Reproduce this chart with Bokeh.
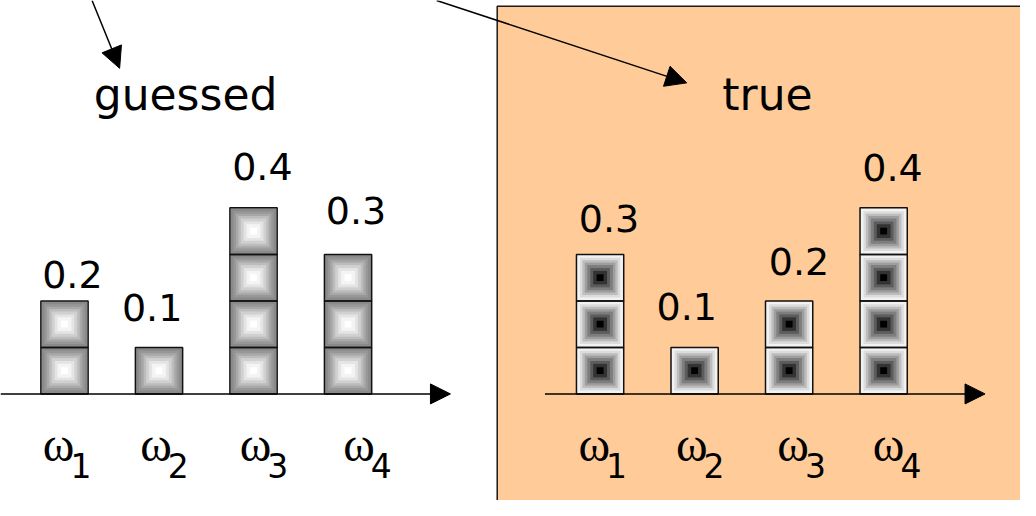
from bokeh.plotting import figure
from bokeh.models import Range1d, Arrow, NormalHead, ColumnDataSource
from bokeh.core.properties import value
from bokeh.embed import file_html
from bokeh.resources import INLINE

# ---- data ----
categories = ["1", "2", "3", "4"]          # subscripts of omega
guessed = [0.2, 0.1, 0.4, 0.3]
true_vals = [0.3, 0.1, 0.2, 0.4]
panel_titles = ["guessed", "true"]

# ---- layout (reference-pixel data units) ----
W, H = 1020, 500
REF_W, REF_H = 1036, 516
axis_y = 406
unit = 48            # px per 0.1 block
spacing = 96
left_first_center = [65, 609]
lab_dx = [[8, -7, 9, 8], [9, -8, 10, 9]]
lab_gap = [[12, 26, 27, 30], [22, 27, 25, 26]]
omega_dx = [[2, 5, 10, 19], [2, 5, 12, 13]]
BL = 0.4  # baseline correction factor (fraction of font size)

p = figure(width=W, height=H, output_backend="svg", toolbar_location=None,
           x_range=Range1d(0, REF_W), y_range=Range1d(REF_H, 0),
           min_border=0, background_fill_color="white", border_fill_color="white")
p.axis.visible = False
p.grid.visible = False
p.outline_line_color = None

# orange panel
p.quad(left=[504.5], right=[1060], top=[6], bottom=[540],
       fill_color="#FFCC99", line_color="#1a1a1a", line_width=1.5)

sans = value("DejaVu Sans")
serif = value("Liberation Serif")

left_ramp = ["#8a8a8a", "#979797", "#a8a8a8", "#bcbcbc", "#d0d0d0", "#e4e4e4", "#f4f4f4", "#ffffff"]
right_ramp = ["#f2f2f2", "#dcdcdc", "#bdbdbd", "#9e9e9e", "#7e7e7e", "#5c5c5c", "#333333", "#000000"]
sizes = [47, 41, 36, 31, 26, 20, 14, 7]

VAL_FS, TITLE_FS, OM_FS, SUB_FS = 38, 44, 48, 33

for k, (vals, ramp) in enumerate([(guessed, left_ramp), (true_vals, right_ramp)]):
    xs, ys = [], []
    for i, v in enumerate(vals):
        n = int(round(v * 10))
        cx = left_first_center[k] + spacing * i
        for j in range(n):
            xs.append(cx)
            ys.append(axis_y - unit / 2 - unit * j)
    src = ColumnDataSource(dict(x=xs, y=ys))
    for s, c in zip(sizes, ramp):
        p.rect("x", "y", width=s, height=s, source=src, fill_color=c, line_color=None)
    p.rect("x", "y", width=unit, height=unit, source=src, fill_color=None,
           line_color="#111111", line_width=1.5)

    # value labels
    lx = [left_first_center[k] + spacing * i + lab_dx[k][i] for i in range(4)]
    ly = [axis_y - unit * int(round(v * 10)) - lab_gap[k][i] - BL * VAL_FS for i, v in enumerate(vals)]
    p.text(lx, ly, text=["%.1f" % v for v in vals], text_font=sans, text_font_size=f"{VAL_FS}px",
           text_align="center", text_baseline="alphabetic", text_color="black")

    # omega labels
    ox = [left_first_center[k] - unit / 2 + spacing * i + omega_dx[k][i] for i in range(4)]
    p.text(ox, [477 - BL * OM_FS] * 4, text=["ω"] * 4, text_font=serif, text_font_size=f"{OM_FS}px",
           text_align="left", text_baseline="alphabetic", text_color="black")
    p.text([x + 28 for x in ox], [493 - BL * SUB_FS] * 4, text=categories, text_font=sans,
           text_font_size=f"{SUB_FS}px",
           text_align="left", text_baseline="alphabetic", text_color="black")

    # axis
    x0 = [0, 553][k]
    x1 = [457, 1000][k]
    p.add_layout(Arrow(end=NormalHead(size=20, fill_color="black", line_color="black"),
                       x_start=x0, y_start=axis_y, x_end=x1, y_end=axis_y,
                       line_color="black", line_width=1.5))

# panel titles
p.text([188, 779], [115 - BL * TITLE_FS] * 2, text=panel_titles, text_font=sans,
       text_font_size=f"{TITLE_FS}px",
       text_align="center", text_baseline="alphabetic", text_color="black")

# pointer arrows
p.add_layout(Arrow(end=NormalHead(size=21, fill_color="black", line_color="black"),
                   x_start=93, y_start=0, x_end=121, y_end=70, line_color="black", line_width=1.5))
p.add_layout(Arrow(end=NormalHead(size=21, fill_color="black", line_color="black"),
                   x_start=443, y_start=0, x_end=697, y_end=85, line_color="black", line_width=1.5))

open("out.html", "w").write(file_html(p, INLINE))
